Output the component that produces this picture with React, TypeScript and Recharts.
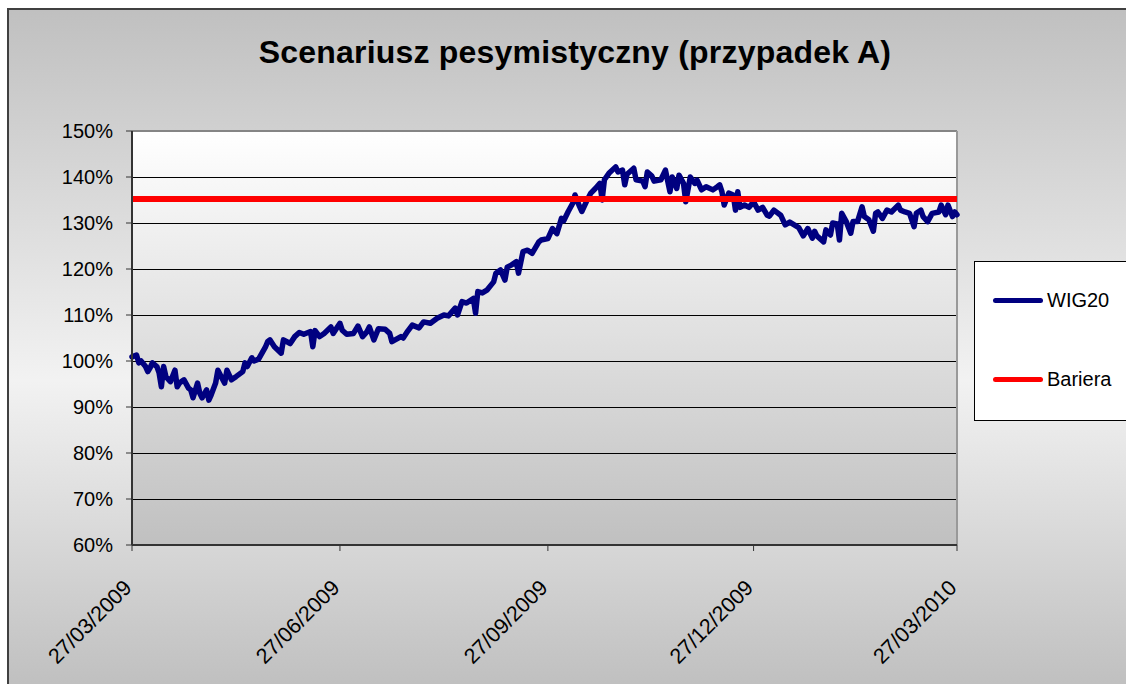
import React from 'react';
import { LineChart, Line, XAxis, YAxis, CartesianGrid, ReferenceLine } from 'recharts';

// day offsets from 27/03/2009
const DAYS = [
  0, 2, 3, 4, 6, 7, 8, 9, 11, 12, 13, 14, 15, 17, 19, 20, 21, 23, 25, 26, 27, 29, 30, 31, 33, 34, 35, 37, 38, 40,
  41, 42, 44, 46, 49, 50, 51, 53, 54, 56, 59, 60, 61, 63, 66, 67, 70, 72, 74, 76, 79, 80, 81, 83, 85, 88, 89, 92,
  93, 95, 98, 100, 102, 104, 105, 107, 109, 112, 114, 115, 119, 120, 122, 124, 127, 129, 132, 135, 138, 140, 143,
  144, 146, 148, 151, 152, 153, 155, 157, 160, 161, 163, 165, 166, 168, 170, 171, 173, 175, 177, 180, 181, 184,
  186, 188, 190, 191, 193, 195, 196, 198, 199, 201, 203, 205, 207, 208, 209, 211, 214, 215, 217, 218, 219, 222,
  223, 226, 227, 228, 230, 231, 234, 236, 238, 239, 241, 242, 244, 245, 247, 249, 250, 252, 254, 257, 259, 260,
  261, 262, 264, 266, 267, 268, 269, 271, 273, 275, 277, 279, 281, 282, 284, 287, 289, 291, 293, 295, 297, 299,
  301, 302, 303, 306, 307, 309, 310, 312, 313, 314, 316, 318, 319, 321, 323, 324, 326, 328, 329, 330, 332, 334,
  336, 339, 340, 342, 344, 346, 347, 349, 350, 352, 354, 357, 358, 360, 361, 363, 364, 365,
];

// WIG20 in % of the start level
const WIG20 = [
  100.9, 101.3, 99.6, 100.0, 98.8, 97.7, 98.5, 99.6, 98.8, 97.4, 94.4, 98.8, 96.6, 95.5, 98.0, 94.4, 95.2, 95.9,
  94.1, 93.7, 92.0, 95.2, 93.0, 92.0, 93.7, 91.5, 92.6, 95.2, 98.0, 96.1, 95.2, 98.0, 95.9, 96.6, 97.7, 99.6, 98.8,
  100.7, 100.0, 100.4, 103.0, 104.2, 104.6, 103.1, 101.7, 104.6, 103.8, 105.3, 106.2, 105.8, 106.4, 103.1, 106.6,
  105.3, 106.0, 107.4, 106.0, 108.2, 106.7, 105.8, 106.0, 107.6, 105.3, 106.4, 107.4, 104.6, 107.0, 106.9, 106.0,
  104.2, 105.3, 105.0, 106.5, 107.8, 107.2, 108.5, 108.2, 109.3, 110.0, 109.8, 111.5, 110.0, 112.9, 112.6, 113.6,
  110.4, 115.1, 114.8, 115.4, 117.2, 119.1, 119.8, 117.6, 120.4, 120.9, 121.6, 119.1, 123.8, 124.1, 123.4, 125.9,
  126.3, 126.6, 128.8, 127.7, 131.0, 130.5, 132.5, 134.3, 136.1, 133.6, 132.5, 134.6, 136.5, 137.5, 138.6, 135.0,
  139.4, 140.8, 142.2, 141.1, 141.5, 138.3, 140.6, 141.9, 139.4, 139.1, 137.9, 141.1, 140.2, 139.1, 139.4, 141.5,
  136.8, 140.0, 137.5, 140.4, 138.6, 134.6, 140.0, 138.6, 139.3, 137.2, 137.9, 137.2, 137.9, 138.3, 136.8, 133.9,
  136.5, 136.1, 132.8, 136.8, 133.4, 133.9, 133.4, 134.6, 132.8, 133.4, 131.7, 131.5, 132.8, 131.7, 129.6, 130.2,
  129.6, 129.0, 127.2, 128.8, 126.7, 128.2, 127.2, 125.9, 128.5, 127.4, 130.0, 129.8, 126.3, 132.1, 130.3, 127.8,
  130.3, 130.3, 133.5, 131.4, 130.7, 128.2, 132.1, 132.4, 131.0, 132.8, 132.4, 133.9, 132.8, 132.4, 132.1, 129.2,
  132.1, 132.8, 131.4, 130.3, 132.1, 132.4, 133.9, 131.8, 133.9, 131.4, 132.4, 131.8,
];

const BARIERA = 135.2;

const SERIES_NAMES = ['WIG20', 'Bariera'];
const SERIES_COLORS = ['#000080', '#ff0000'];

const TICK_DAYS = [0, 92, 184, 275, 365];
const TICK_LABELS = ['27/03/2009', '27/06/2009', '27/09/2009', '27/12/2009', '27/03/2010'];
const Y_TICKS = [60, 70, 80, 90, 100, 110, 120, 130, 140, 150];

const FONT = '"Liberation Sans", Arial, sans-serif';

const data = DAYS.map((d, i) => ({ day: d, wig: WIG20[i], bariera: BARIERA }));

function XTick({ x, y, payload }: any) {
  const idx = TICK_DAYS.indexOf(payload.value);
  return (
    <g transform={`translate(${x + 1},${y + 36})`}>
      <text x={0} y={0} textAnchor="end" transform="rotate(-45)" fontSize={21.5} fill="#000" fontFamily={FONT}>
        {TICK_LABELS[idx]}
      </text>
    </g>
  );
}

export default function App() {
  return (
    <div
      style={{
        position: 'fixed',
        left: 7,
        top: 8,
        width: 1119,
        height: 676,
        boxSizing: 'border-box',
        borderLeft: '2px solid #404040',
        borderTop: '2px solid #404040',
        background: 'linear-gradient(to bottom, #c0c0c0 0%, #f2f2f2 55%, #c0c0c0 100%)',
        fontFamily: FONT,
        overflow: 'hidden',
      }}
    >
      <div
        style={{
          position: 'absolute',
          left: 166,
          top: 26,
          width: 800,
          textAlign: 'center',
          fontSize: 32,
          lineHeight: '32px',
          fontWeight: 'bold',
          letterSpacing: 0.2,
          color: '#000',
        }}
      >
        Scenariusz pesymistyczny (przypadek A)
      </div>

      {/* legend box, partly cut by the right edge like the original */}
      <div
        style={{
          position: 'absolute',
          left: 965,
          top: 251,
          width: 200,
          height: 158,
          border: '1px solid #000',
          background: '#fff',
        }}
      >
        {SERIES_NAMES.map((name, i) => (
          <div
            key={name}
            style={{ position: 'absolute', left: 18, top: 26 + i * 79, display: 'flex', alignItems: 'center', height: 24 }}
          >
            <span style={{ display: 'inline-block', width: 50, height: 5, borderRadius: 3, background: SERIES_COLORS[i] }} />
            <span style={{ marginLeft: 4, fontSize: 20, color: '#000' }}>{name}</span>
          </div>
        ))}
      </div>

      <LineChart width={1117} height={674} data={data} margin={{ top: 121, right: 169, bottom: 79, left: 53 }}>
        <defs>
          <linearGradient id="plotGrad" x1="0" y1="0" x2="0" y2="1">
            <stop offset="0%" stopColor="#ffffff" />
            <stop offset="100%" stopColor="#c0c0c0" />
          </linearGradient>
        </defs>
        <CartesianGrid
          vertical={false}
          stroke="#000"
          strokeOpacity={1}
          shapeRendering="crispEdges"
          fill="url(#plotGrad)"
          fillOpacity={1}
        />
        <ReferenceLine y={150} stroke="#858585" strokeWidth={2} />
        <ReferenceLine x={365} stroke="#999" strokeWidth={2} />
        <XAxis
          type="number"
          dataKey="day"
          domain={[0, 365]}
          ticks={TICK_DAYS}
          interval={0}
          height={60}
          tickSize={6}
          axisLine={{ stroke: '#333', strokeWidth: 2 }}
          tickLine={{ stroke: '#333' }}
          tick={<XTick />}
        />
        <YAxis
          type="number"
          domain={[60, 150]}
          ticks={Y_TICKS}
          interval={0}
          width={70}
          tickSize={6}
          tickMargin={13}
          tickFormatter={(v: number) => `${v}%`}
          axisLine={{ stroke: '#333', strokeWidth: 2 }}
          tickLine={{ stroke: '#333' }}
          tick={{ fontSize: 20, fill: '#000', fontFamily: FONT }}
        />
        <Line
          type="linear"
          dataKey="wig"
          name={SERIES_NAMES[0]}
          stroke={SERIES_COLORS[0]}
          strokeWidth={5.5}
          strokeLinejoin="round"
          strokeLinecap="round"
          dot={false}
          activeDot={false}
          isAnimationActive={false}
        />
        <Line
          type="linear"
          dataKey="bariera"
          name={SERIES_NAMES[1]}
          stroke={SERIES_COLORS[1]}
          strokeWidth={6}
          dot={false}
          activeDot={false}
          isAnimationActive={false}
        />
      </LineChart>
    </div>
  );
}
